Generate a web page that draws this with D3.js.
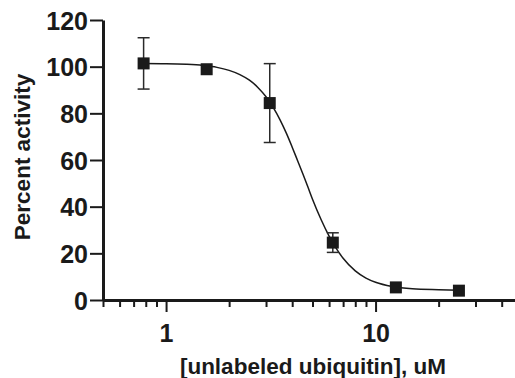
<!DOCTYPE html>
<html>
<head>
<meta charset="utf-8">
<script src="https://cdn.jsdelivr.net/npm/d3@7"></script>
<style>
  html, body { margin: 0; padding: 0; background: #fff; }
  svg { display: block; }
  text { font-family: "Liberation Sans", Arial, Helvetica, sans-serif; font-weight: bold; fill: #1a1a1a; }
</style>
</head>
<body>
<script>
// Measured points (concentration in uM, percent activity, error)
const concentrations = [0.78125, 1.5625, 3.125, 6.25, 12.5, 25];
const activity = [101.4, 98.9, 84.4, 24.6, 5.4, 4.0];
const errors = [11.0, 0, 16.9, 4.2, 0, 0];

// Fitted curve
const curveConc = [0.78, 1.0, 1.25, 1.5, 1.75, 2.0, 2.25, 2.5, 2.75, 3.0, 3.25, 3.5, 3.75, 4.0, 4.25, 4.5, 4.75, 5.0, 5.5, 6.0, 6.25, 6.5, 7.0, 8.0, 9.0, 10, 12, 15, 20, 25];
const curveAct  = [101.4, 101.3, 101.0, 100.5, 99.7, 98.4, 96.6, 94.2, 91.0, 87.1, 82.4, 77.2, 71.5, 65.5, 59.6, 54.0, 48.5, 43.2, 34.4, 27.4, 24.5, 22.0, 17.9, 12.5, 9.4, 7.6, 5.8, 4.8, 4.4, 4.2];

const yTicks = [0, 20, 40, 60, 80, 100, 120];
const xMajorTicks = [1, 10];
const xMinorTicks = [0.5, 0.6, 0.7, 0.8, 0.9, 2, 3, 4, 5, 6, 7, 8, 9, 20, 30, 40];

const W = 515, H = 378;
const svg = d3.select("body").append("svg").attr("width", W).attr("height", H);

const x = d3.scaleLog().domain([0.5, 50]).range([103, 522]);
const y = d3.scaleLinear().domain([0, 120]).range([300, 20]);

const ink = "#1a1a1a";

// X axis minor ticks (with domain line)
const gxMinor = svg.append("g").attr("transform", "translate(0,300)")
  .call(d3.axisBottom(x).tickValues(xMinorTicks).tickSize(7).tickSizeOuter(0).tickFormat(""));
gxMinor.select(".domain").attr("stroke", ink).attr("stroke-width", 3);
gxMinor.selectAll(".tick line").attr("stroke", ink).attr("stroke-width", 2);

// X axis major ticks
const gxMajor = svg.append("g").attr("transform", "translate(0,300)")
  .call(d3.axisBottom(x).tickValues(xMajorTicks).tickSize(12).tickSizeOuter(0).tickPadding(6).tickFormat(d3.format("d")));
gxMajor.select(".domain").remove();
gxMajor.selectAll(".tick line").attr("stroke", ink).attr("stroke-width", 2);
gxMajor.selectAll(".tick text").attr("font-size", "25px").attr("fill", ink)
  .attr("dy", null).attr("y", 42);

// Y axis
const gy = svg.append("g").attr("transform", "translate(103,0)")
  .call(d3.axisLeft(y).tickValues(yTicks).tickSize(13).tickSizeOuter(0).tickPadding(2));
gy.select(".domain").attr("stroke", ink).attr("stroke-width", 3);
gy.selectAll(".tick line").attr("stroke", ink).attr("stroke-width", 2);
gy.selectAll(".tick text").attr("font-size", "25px").attr("fill", ink).attr("dy", "0.36em");

// Axis titles
svg.append("text")
  .attr("x", 313).attr("y", 374)
  .attr("text-anchor", "middle")
  .attr("font-size", "22.5px")
  .text("[unlabeled ubiquitin], uM");

svg.append("text")
  .attr("transform", "translate(29.5,157) rotate(-90)")
  .attr("text-anchor", "middle")
  .attr("font-size", "22.5px")
  .text("Percent activity");

// Fitted curve
const line = d3.line()
  .x((d, i) => x(curveConc[i]))
  .y((d, i) => y(curveAct[i]))
  .curve(d3.curveMonotoneX);
svg.append("path")
  .datum(curveAct)
  .attr("d", line)
  .attr("fill", "none")
  .attr("stroke", ink)
  .attr("stroke-width", 1.5);

// Error bars
const pts = concentrations.map((c, i) => ({ c, v: activity[i], e: errors[i] }));
const eb = svg.append("g").attr("stroke", "#2a2a2a").attr("stroke-width", 1.5);
pts.filter(d => d.e > 0).forEach(d => {
  const cx = x(d.c);
  eb.append("line").attr("x1", cx).attr("x2", cx).attr("y1", y(d.v + d.e)).attr("y2", y(d.v - d.e));
  eb.append("line").attr("x1", cx - 6).attr("x2", cx + 6).attr("y1", y(d.v + d.e)).attr("y2", y(d.v + d.e));
  eb.append("line").attr("x1", cx - 6).attr("x2", cx + 6).attr("y1", y(d.v - d.e)).attr("y2", y(d.v - d.e));
});

// Markers
const s = 12;
svg.append("g").selectAll("rect").data(pts).join("rect")
  .attr("x", d => x(d.c) - s / 2)
  .attr("y", d => y(d.v) - s / 2)
  .attr("width", s).attr("height", s)
  .attr("fill", ink);
</script>
</body>
</html>
